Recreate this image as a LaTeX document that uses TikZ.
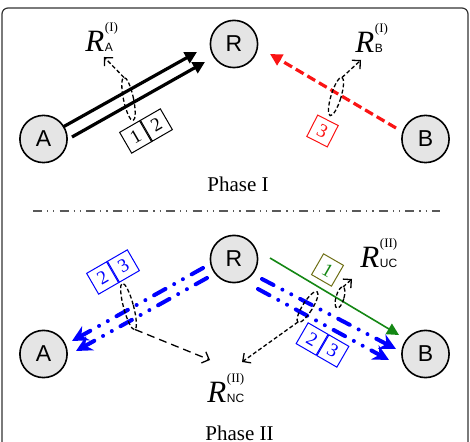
\documentclass[tikz,border=0pt]{standalone}
\usepackage{fontspec}
\setmainfont{Liberation Serif}
\setsansfont{Liberation Sans}
\usetikzlibrary{arrows.meta}

\definecolor{relblue}{RGB}{0,0,255}
\definecolor{relred}{RGB}{250,20,20}
\definecolor{relgreen}{RGB}{20,135,20}
\definecolor{relolive}{RGB}{110,110,20}

\newcommand{\ratelbl}[2]{{\fontsize{15.5}{15.5}\selectfont\itshape R}\kern0.3pt\makebox[0pt][l]{\raisebox{10pt}{\fontsize{6.5}{6.5}\selectfont(#1)}}{\fontsize{6}{6}\selectfont\sffamily #2}}

\begin{document}
\begin{tikzpicture}[x=0.5pt,y=-0.5pt,
  station/.style={circle, draw, line width=0.8pt, fill=gray!20, minimum size=23.6pt, inner sep=0pt, font=\sffamily\fontsize{11.5}{11.5}\selectfont},
  pkt/.style={draw, line width=0.5pt, minimum width=11.5pt, minimum height=12pt, inner sep=0pt, font=\fontsize{9.5}{9.5}\selectfont},
  flow/.style={line width=1.6pt, -{Triangle[length=6pt,width=6pt]}},
  reddash/.style={relred, line width=1.6pt, dash pattern=on 4.5pt off 2.2pt, -{Triangle[length=6pt,width=6pt]}},
  bluedash/.style={relblue, line width=2pt, line cap=round, dash pattern=on 6.5pt off 5pt on 0pt off 5pt on 0pt off 5pt, -{Stealth[length=8pt,width=8pt]}},
  encircle/.style={line width=0.65pt, dash pattern=on 2pt off 1.2pt},
  pointer/.style={line width=0.65pt, dash pattern=on 2pt off 1.2pt, -{Straight Barb[length=3pt,width=6pt]}},
  rlabel/.style={anchor=base west, inner sep=0pt}]
\useasboundingbox (0,0) rectangle (470,442);
\clip (0,0) rectangle (470,442);
\draw[gray!40!black, line width=0.6pt, rounded corners=3pt] (2,8) rectangle (468,470);

%PHASE I
\node[station] (A1) at (43.5,139) {A};
\node[station] (R1) at (234,44) {R};
\node[station] (B1) at (425.5,139) {B};
\coordinate (a1s) at (63,127); \coordinate (a1e) at (197,52);
\coordinate (a2s) at (72,137); \coordinate (a2e) at (205,62);
\draw[flow] (a1s) -- (a1e);
\draw[flow] (a2s) -- (a2e);
\coordinate (b1s) at (396,128); \coordinate (b1e) at (270,54);
\draw[reddash] (b1s) -- (b1e);
\node[pkt, rotate=30, anchor=east] (p1) at (146,131) {1};
\node[pkt, rotate=30, anchor=west] (p2) at (146,131) {2};
\node[pkt, relred, rotate=-27] (p3) at (322.5,131) {3};
\draw[encircle, rotate around={12:(128.5,99)}] (128.5,99) ellipse [x radius=5, y radius=22];
\draw[encircle, rotate around={-17:(336,96.5)}] (336,96.5) ellipse [x radius=5, y radius=20];
\node[rlabel] (rA) at (85,52) {\ratelbl{I}{A}};
\node[rlabel] (rB) at (355,53) {\ratelbl{I}{B}};
\coordinate (qA) at (124,77.5); \coordinate (tA) at (104,57);
\coordinate (qB) at (342,77.5); \coordinate (tB) at (361,60);
\draw[pointer] (qA) -- (tA);
\draw[pointer] (qB) -- (tB);
\node[anchor=base, font=\fontsize{10.5}{12}\selectfont] (ph1) at (238,192) {Phase I};

% separator
\draw[gray!70!black, line width=0.9pt, dash pattern=on 4.5pt off 2.5pt on 0.6pt off 2.5pt on 0.6pt off 2.6pt] (33,211) -- (440,211);

%PHASE II
\node[station] (A2) at (43.5,354) {A};
\node[station] (R2) at (234,259) {R};
\node[station] (B2) at (425.5,354) {B};
% R to A
\coordinate (c1s) at (203,268); \coordinate (c1e) at (72,341);
\coordinate (c2s) at (207,278); \coordinate (c2e) at (76,351);
\draw[bluedash] (c1s) -- (c1e);
\draw[bluedash] (c2s) -- (c2e);
% R to B
\coordinate (d1s) at (262,279); \coordinate (d1e) at (396,349);
\coordinate (d2s) at (258,289); \coordinate (d2e) at (389,360);
\draw[bluedash] (d1s) -- (d1e);
\draw[bluedash] (d2s) -- (d2e);
\coordinate (gs) at (270,258); \coordinate (ge) at (399,335);
\draw[relgreen, line width=0.8pt, -{Triangle[length=6pt,width=6pt]}] (gs) -- (ge);
\node[pkt, relblue, rotate=30, anchor=east] (q2) at (113,272) {2};
\node[pkt, relblue, rotate=30, anchor=west] (q3) at (113,272) {3};
\node[pkt, relolive, text=relgreen, rotate=-30] (s1) at (327.5,270) {1};
\node[pkt, relblue, rotate=-30, anchor=east] (s2) at (322.5,345) {2};
\node[pkt, relblue, rotate=-30, anchor=west] (s3) at (322.5,345) {3};
\draw[encircle, rotate around={15:(128.5,306.5)}] (128.5,306.5) ellipse [x radius=5, y radius=24];
\draw[encircle, rotate around={-32:(307.5,307)}] (307.5,307) ellipse [x radius=5, y radius=18];
\draw[encircle, rotate around={-16:(340,297.5)}] (340,297.5) ellipse [x radius=4, y radius=11];
\node[rlabel] (rUC) at (360,268) {\ratelbl{II}{UC}};
\node[rlabel] (rNC) at (207,402) {\ratelbl{II}{NC}};
\coordinate (qL) at (135,329.5); \coordinate (tL) at (210,360);
\coordinate (qR) at (298,322); \coordinate (tR) at (242,362);
\coordinate (qG) at (343,287); \coordinate (tG) at (352,279);
\draw[pointer, dash pattern=on 4pt off 2.5pt] (qL) -- (tL);
\draw[pointer] (qR) -- (tR);
\draw[pointer] (qG) -- (tG);
\node[anchor=base, font=\fontsize{10.5}{12}\selectfont] (ph2) at (239.5,440) {Phase II};
\end{tikzpicture}
\end{document}
